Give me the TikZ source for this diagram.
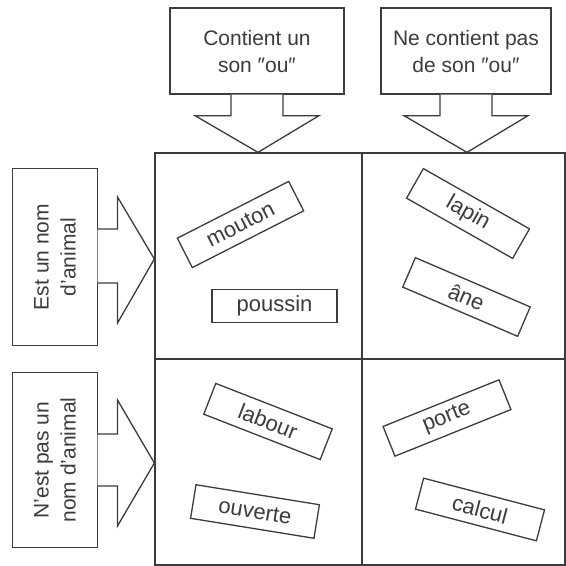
\documentclass[tikz,border=0pt]{standalone}
\usepackage{fontspec}
\setmainfont{Liberation Sans}
\usetikzlibrary{calc}
\definecolor{ink}{RGB}{60,60,60}
\begin{document}
\begin{tikzpicture}[x=1pt,y=-1pt,line width=1.3pt,
  box/.style={draw=ink,fill=white,align=center,inner sep=0pt,text=ink,font=\fontsize{21}{27}\selectfont},
  card/.style={draw=ink,fill=white,minimum width=125pt,minimum height=33pt,inner sep=0pt,text=ink,font=\fontsize{22}{26}\selectfont},
  bigarrow/.style={draw=ink,fill=white,line join=miter}]
\useasboundingbox (0,0) rectangle (566,566);
% grid
\node[draw=ink,minimum width=410pt,minimum height=412pt,inner sep=0pt] (grid) at (360,359) {};
\coordinate (vt) at (362,153);
\coordinate (vb) at (362,565);
\coordinate (hl) at (155,359);
\coordinate (hr) at (565,359);
\draw[ink] (vt) -- (vb);
\draw[ink] (hl) -- (hr);
% header boxes
\node[box,minimum width=174pt,minimum height=86pt] (c1) at (257,51) {Contient un\\son ″ou″};
\node[box,minimum width=170pt,minimum height=86pt] (c2) at (466,51) {Ne contient pas\\de son ″ou″};
\node[box,rotate=90,minimum width=177pt,minimum height=85pt] (r1) at (55,257) {Est un nom\\d'animal};
\node[box,rotate=90,minimum width=175pt,minimum height=85pt] (r2) at (55,460) {N'est pas un\\nom d'animal};
% big arrows
\draw[bigarrow] ($(c1.south)+(-26,0)$) -- ++(0,21) -- ++(-36,0) -- ($(c1.south |- grid.north)+(1,0)$) -- ($(c1.south)+(62,21)$) -- ($(c1.south)+(26,21)$) -- ($(c1.south)+(26,0)$);
\draw[bigarrow] ($(c2.south)+(-26,0)$) -- ++(0,21) -- ++(-36,0) -- ($(c2.south |- grid.north)+(1,0)$) -- ($(c2.south)+(62,21)$) -- ($(c2.south)+(26,21)$) -- ($(c2.south)+(26,0)$);
\draw[bigarrow] ($(r1.center)+(42.5,-28)$) -- ++(20,0) -- ++(0,-32) -- ($(grid.west |- r1.center)+(0,2)$) -- ($(r1.center)+(62.5,66)$) -- ($(r1.center)+(62.5,26)$) -- ($(r1.center)+(42.5,26)$);
\draw[bigarrow] ($(r2.center)+(42.5,-26)$) -- ++(20,0) -- ++(0,-34) -- ($(grid.west |- r2.center)+(0,3)$) -- ($(r2.center)+(62.5,66)$) -- ($(r2.center)+(62.5,26)$) -- ($(r2.center)+(42.5,26)$);
% cards
\node[card,rotate=27] (mouton) at (240.5,224.5) {mouton};
\node[card,rotate=0] (poussin) at (274.5,306) {poussin};
\node[card,rotate=-29.6,minimum width=122pt,minimum height=34pt] (lapin) at (468,213.5) {lapin};
\node[card,rotate=-23.2,minimum height=32pt] (ane) at (466.5,297) {âne};
\node[card,rotate=-21.3] (labour) at (268,421.5) {labour};
\node[card,rotate=-9.2,minimum height=34pt] (ouverte) at (255,511.5) {ouverte};
\node[card,rotate=21.9,minimum height=32pt] (porte) at (447,418) {porte};
\node[card,rotate=-14.7,minimum height=32pt] (calcul) at (480,509.5) {calcul};
\end{tikzpicture}
\end{document}
